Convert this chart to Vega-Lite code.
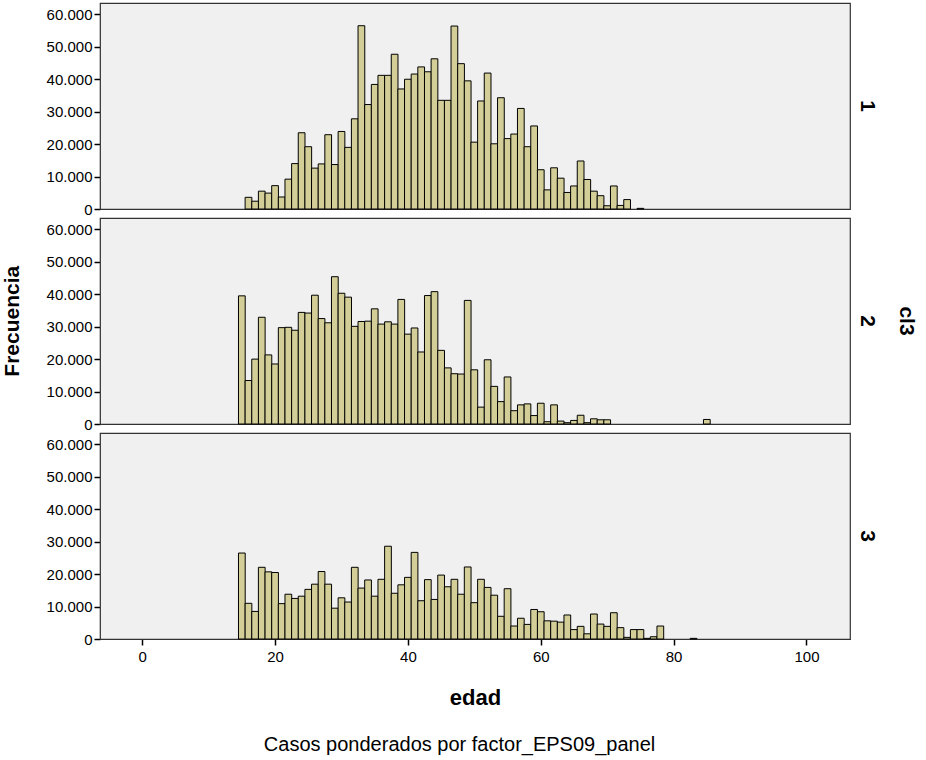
{
  "$schema": "https://vega.github.io/schema/vega-lite/v6.json",
  "background": "white",
  "padding": {"left": 2, "top": 2, "right": 3, "bottom": 5},
  "title": {"text": "Casos ponderados por factor_EPS09_panel", "orient": "bottom", "anchor": "middle", "font": "Liberation Sans", "fontSize": 20, "fontWeight": "normal", "color": "#000", "offset": 27},
  "data": {"values": [
    {"cl3":1,"edad":16,"n":3600},{"cl3":1,"edad":17,"n":2400},{"cl3":1,"edad":18,"n":5500},{"cl3":1,"edad":19,"n":4900},{"cl3":1,"edad":20,"n":7200},{"cl3":1,"edad":21,"n":3700},{"cl3":1,"edad":22,"n":9200},{"cl3":1,"edad":23,"n":14000},{"cl3":1,"edad":24,"n":23500},{"cl3":1,"edad":25,"n":19200},{"cl3":1,"edad":26,"n":12600},{"cl3":1,"edad":27,"n":13900},{"cl3":1,"edad":28,"n":22900},{"cl3":1,"edad":29,"n":13700},{"cl3":1,"edad":30,"n":23900},{"cl3":1,"edad":31,"n":19000},{"cl3":1,"edad":32,"n":27800},{"cl3":1,"edad":33,"n":56500},{"cl3":1,"edad":34,"n":32200},{"cl3":1,"edad":35,"n":38400},{"cl3":1,"edad":36,"n":41200},{"cl3":1,"edad":37,"n":41200},{"cl3":1,"edad":38,"n":47700},{"cl3":1,"edad":39,"n":37000},{"cl3":1,"edad":40,"n":40000},{"cl3":1,"edad":41,"n":41600},{"cl3":1,"edad":42,"n":43800},{"cl3":1,"edad":43,"n":42300},{"cl3":1,"edad":44,"n":46300},{"cl3":1,"edad":45,"n":33500},{"cl3":1,"edad":46,"n":33500},{"cl3":1,"edad":47,"n":56400},{"cl3":1,"edad":48,"n":44800},{"cl3":1,"edad":49,"n":39500},{"cl3":1,"edad":50,"n":20600},{"cl3":1,"edad":51,"n":33300},{"cl3":1,"edad":52,"n":41900},{"cl3":1,"edad":53,"n":20100},{"cl3":1,"edad":54,"n":34300},{"cl3":1,"edad":55,"n":21700},{"cl3":1,"edad":56,"n":23100},{"cl3":1,"edad":57,"n":31000},{"cl3":1,"edad":58,"n":19200},{"cl3":1,"edad":59,"n":25600},{"cl3":1,"edad":60,"n":12100},{"cl3":1,"edad":61,"n":5900},{"cl3":1,"edad":62,"n":12700},{"cl3":1,"edad":63,"n":9500},{"cl3":1,"edad":64,"n":5100},{"cl3":1,"edad":65,"n":7100},{"cl3":1,"edad":66,"n":14800},{"cl3":1,"edad":67,"n":9100},{"cl3":1,"edad":68,"n":5500},{"cl3":1,"edad":69,"n":4100},{"cl3":1,"edad":70,"n":1000},{"cl3":1,"edad":71,"n":7100},{"cl3":1,"edad":72,"n":1100},{"cl3":1,"edad":73,"n":2900},{"cl3":1,"edad":75,"n":200},
    {"cl3":2,"edad":15,"n":39500},{"cl3":2,"edad":16,"n":13400},{"cl3":2,"edad":17,"n":20000},{"cl3":2,"edad":18,"n":32900},{"cl3":2,"edad":19,"n":21300},{"cl3":2,"edad":20,"n":18500},{"cl3":2,"edad":21,"n":29700},{"cl3":2,"edad":22,"n":29800},{"cl3":2,"edad":23,"n":28900},{"cl3":2,"edad":24,"n":34400},{"cl3":2,"edad":25,"n":34200},{"cl3":2,"edad":26,"n":39700},{"cl3":2,"edad":27,"n":32500},{"cl3":2,"edad":28,"n":31200},{"cl3":2,"edad":29,"n":45400},{"cl3":2,"edad":30,"n":40300},{"cl3":2,"edad":31,"n":39100},{"cl3":2,"edad":32,"n":30100},{"cl3":2,"edad":33,"n":31600},{"cl3":2,"edad":34,"n":31700},{"cl3":2,"edad":35,"n":35500},{"cl3":2,"edad":36,"n":30800},{"cl3":2,"edad":37,"n":31500},{"cl3":2,"edad":38,"n":30800},{"cl3":2,"edad":39,"n":38400},{"cl3":2,"edad":40,"n":27700},{"cl3":2,"edad":41,"n":29600},{"cl3":2,"edad":42,"n":22200},{"cl3":2,"edad":43,"n":39600},{"cl3":2,"edad":44,"n":40800},{"cl3":2,"edad":45,"n":22700},{"cl3":2,"edad":46,"n":17300},{"cl3":2,"edad":47,"n":15500},{"cl3":2,"edad":48,"n":15400},{"cl3":2,"edad":49,"n":38100},{"cl3":2,"edad":50,"n":16700},{"cl3":2,"edad":51,"n":5200},{"cl3":2,"edad":52,"n":19800},{"cl3":2,"edad":53,"n":11600},{"cl3":2,"edad":54,"n":6900},{"cl3":2,"edad":55,"n":14500},{"cl3":2,"edad":56,"n":4100},{"cl3":2,"edad":57,"n":5900},{"cl3":2,"edad":58,"n":6200},{"cl3":2,"edad":59,"n":2600},{"cl3":2,"edad":60,"n":6400},{"cl3":2,"edad":61,"n":700},{"cl3":2,"edad":62,"n":5900},{"cl3":2,"edad":63,"n":900},{"cl3":2,"edad":64,"n":400},{"cl3":2,"edad":65,"n":1100},{"cl3":2,"edad":66,"n":2700},{"cl3":2,"edad":67,"n":400},{"cl3":2,"edad":68,"n":1600},{"cl3":2,"edad":69,"n":1300},{"cl3":2,"edad":70,"n":1300},{"cl3":2,"edad":85,"n":1400},
    {"cl3":3,"edad":15,"n":26500},{"cl3":3,"edad":16,"n":11000},{"cl3":3,"edad":17,"n":8500},{"cl3":3,"edad":18,"n":22100},{"cl3":3,"edad":19,"n":20700},{"cl3":3,"edad":20,"n":20500},{"cl3":3,"edad":21,"n":10900},{"cl3":3,"edad":22,"n":13800},{"cl3":3,"edad":23,"n":12500},{"cl3":3,"edad":24,"n":13200},{"cl3":3,"edad":25,"n":15300},{"cl3":3,"edad":26,"n":16900},{"cl3":3,"edad":27,"n":20800},{"cl3":3,"edad":28,"n":16900},{"cl3":3,"edad":29,"n":9500},{"cl3":3,"edad":30,"n":12700},{"cl3":3,"edad":31,"n":11400},{"cl3":3,"edad":32,"n":22100},{"cl3":3,"edad":33,"n":15700},{"cl3":3,"edad":34,"n":18200},{"cl3":3,"edad":35,"n":13200},{"cl3":3,"edad":36,"n":18400},{"cl3":3,"edad":37,"n":28600},{"cl3":3,"edad":38,"n":14100},{"cl3":3,"edad":39,"n":16700},{"cl3":3,"edad":40,"n":19000},{"cl3":3,"edad":41,"n":26700},{"cl3":3,"edad":42,"n":11800},{"cl3":3,"edad":43,"n":18300},{"cl3":3,"edad":44,"n":12200},{"cl3":3,"edad":45,"n":19700},{"cl3":3,"edad":46,"n":16100},{"cl3":3,"edad":47,"n":18400},{"cl3":3,"edad":48,"n":13800},{"cl3":3,"edad":49,"n":22200},{"cl3":3,"edad":50,"n":11200},{"cl3":3,"edad":51,"n":18400},{"cl3":3,"edad":52,"n":15900},{"cl3":3,"edad":53,"n":13500},{"cl3":3,"edad":54,"n":7000},{"cl3":3,"edad":55,"n":15500},{"cl3":3,"edad":56,"n":4000},{"cl3":3,"edad":57,"n":6400},{"cl3":3,"edad":58,"n":4500},{"cl3":3,"edad":59,"n":9100},{"cl3":3,"edad":60,"n":8400},{"cl3":3,"edad":61,"n":5600},{"cl3":3,"edad":62,"n":5500},{"cl3":3,"edad":63,"n":5200},{"cl3":3,"edad":64,"n":7400},{"cl3":3,"edad":65,"n":2900},{"cl3":3,"edad":66,"n":3900},{"cl3":3,"edad":67,"n":1600},{"cl3":3,"edad":68,"n":7700},{"cl3":3,"edad":69,"n":4600},{"cl3":3,"edad":70,"n":3900},{"cl3":3,"edad":71,"n":8100},{"cl3":3,"edad":72,"n":3500},{"cl3":3,"edad":73,"n":500},{"cl3":3,"edad":74,"n":2900},{"cl3":3,"edad":75,"n":2900},{"cl3":3,"edad":76,"n":200},{"cl3":3,"edad":77,"n":700},{"cl3":3,"edad":78,"n":4000},{"cl3":3,"edad":83,"n":200}
  ]},
  "vconcat": [
    {
      "title": {"text": "Frecuencia", "orient": "left", "anchor": "middle", "dx": 34, "font": "Liberation Sans", "fontSize": 21, "fontWeight": "bold", "color": "#000", "offset": 23},
      "facet": {
        "row": {"field": "cl3", "type": "ordinal", "title": "cl3",
          "header": {"labelOrient": "right", "titleOrient": "right", "labelAngle": 90, "titleAngle": 90,
            "labelFont": "Liberation Sans", "labelFontSize": 21, "labelFontWeight": "bold", "labelColor": "#000", "labelPadding": 7,
            "titleFont": "Liberation Sans", "titleFontSize": 21, "titleFontWeight": "bold", "titleColor": "#000", "titlePadding": 8}}
      },
      "spacing": 9,
      "bounds": "flush",
      "spec": {
        "width": 750,
        "height": 206,
        "mark": {"type": "bar", "size": 6.73, "fill": "#D3CE97", "stroke": "#000", "strokeWidth": 1},
        "encoding": {
          "x": {"field": "edad", "type": "quantitative", "title": "edad",
            "scale": {"domain": [-5.6, 105.8], "nice": false, "zero": false},
            "axis": {"values": [0, 20, 40, 60, 80, 100], "grid": false, "domainColor": "#000", "tickColor": "#000", "tickSize": 6, "tickWidth": 1.5, "labelFont": "Liberation Sans", "labelFontSize": 15, "labelColor": "#000", "labelPadding": 4, "titleFont": "Liberation Sans", "titleFontSize": 22, "titleFontWeight": "bold", "titleColor": "#000", "titlePadding": 23}},
          "y": {"field": "n", "type": "quantitative", "title": null,
            "scale": {"domain": [0, 63500], "nice": false},
            "axis": {"values": [0, 10000, 20000, 30000, 40000, 50000, 60000], "grid": false, "labelExpr": "replace(format(datum.value, ','), ',', '.')", "domainColor": "#000", "tickColor": "#000", "tickSize": 6, "tickWidth": 1.5, "labelFont": "Liberation Sans", "labelFontSize": 15, "labelColor": "#000", "labelPadding": 2}}
        }
      }
    }
  ],
  "config": {
    "view": {"fill": "#F0F0F0", "stroke": "#333", "strokeWidth": 1.2}
  }
}
